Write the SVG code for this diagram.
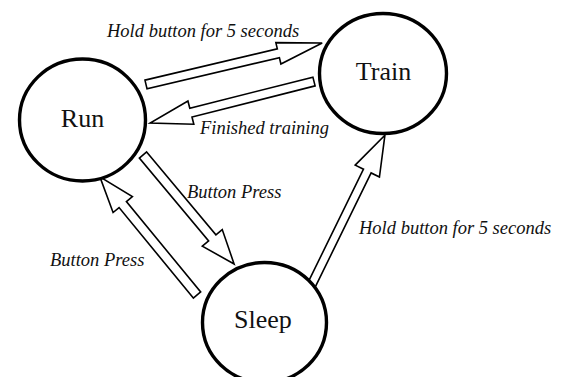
<svg xmlns="http://www.w3.org/2000/svg" width="566" height="377" viewBox="0 0 566 377">
<style>
.arrow{fill:#fff;stroke:#000;stroke-width:1.6;stroke-linejoin:miter}
.node{fill:#fff;stroke:#000;stroke-width:3.4}
.ntext{font-family:"Liberation Serif","Times New Roman",serif;font-size:26px;fill:#111;text-anchor:middle}
.label{font-family:"Liberation Serif","Times New Roman",serif;font-size:18.5px;font-style:italic;fill:#111}
</style>
<rect width="566" height="377" fill="#fff"/>
<g id="connectors">
<polygon class="arrow" transform="translate(146,84.5) rotate(-13.27)" points="0,-4.5 136,-4.5 136,-11 181,0 136,11 136,4.5 0,4.5"/>
<polygon class="arrow" transform="translate(314,81.5) rotate(165.8)" points="0,-4.5 127,-4.5 127,-12 169,0 127,12 127,4.5 0,4.5"/>
<polygon class="arrow" transform="translate(143,155) rotate(50.1)" points="0,-4.75 108,-4.75 108,-13 142,0 108,13 108,4.75 0,4.75"/>
<polygon class="arrow" transform="translate(197,295) rotate(-129.4)" points="0,-4.75 117,-4.75 117,-12.5 153,0 117,12.5 117,4.75 0,4.75"/>
<polygon class="arrow" transform="translate(311,286) rotate(-63.9)" points="0,-4.25 128,-4.25 128,-13.5 168,0 128,13.5 128,4.25 0,4.25"/>
<text class="label" x="107" y="37">Hold button for 5 seconds</text>
<text class="label" x="200" y="134">Finished training</text>
<text class="label" x="187" y="198">Button Press</text>
<text class="label" x="50" y="266">Button Press</text>
<text class="label" x="359" y="234">Hold button for 5 seconds</text>
</g>
<g id="run">
<ellipse class="node" cx="82.5" cy="120" rx="63" ry="61"/>
<text class="ntext" x="82.5" y="127">Run</text>
</g>
<g id="train">
<ellipse class="node" cx="383" cy="73.5" rx="63.5" ry="60"/>
<text class="ntext" x="383.5" y="80">Train</text>
</g>
<g id="sleep">
<ellipse class="node" cx="264.5" cy="322.5" rx="62" ry="60"/>
<text class="ntext" x="263" y="328">Sleep</text>
</g>
</svg>
